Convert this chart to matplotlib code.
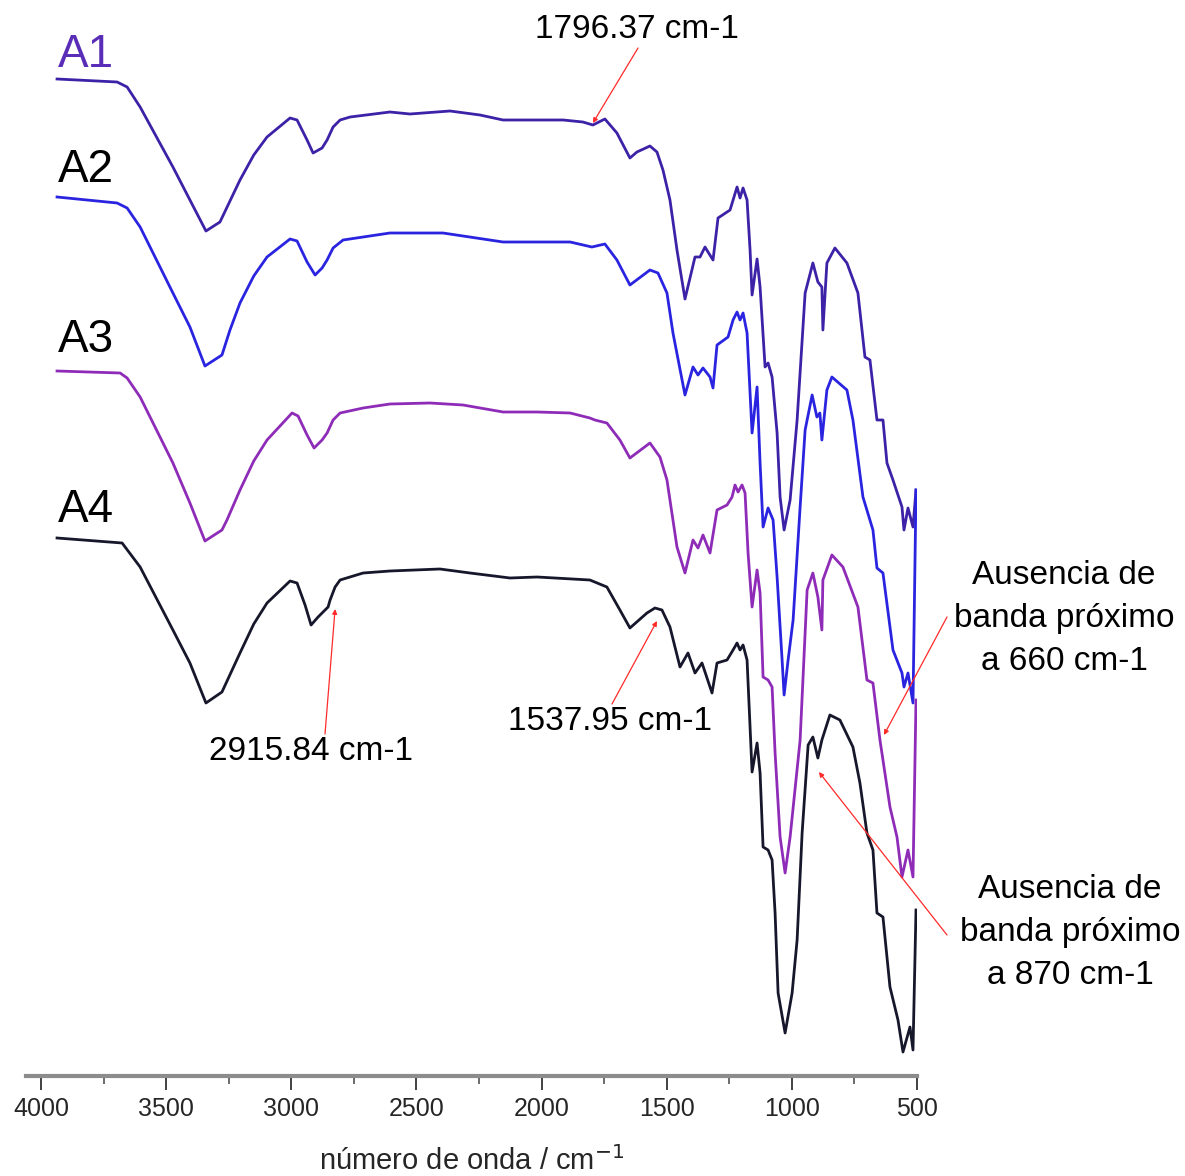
import matplotlib
matplotlib.use("Agg")
import matplotlib.pyplot as plt
from matplotlib import font_manager
from matplotlib.ticker import MultipleLocator

# ---------------------------------------------------------------
# Espectros FTIR – número de onda / cm-1
# y = transmitancia desplazada (unidades arbitrarias)
# ---------------------------------------------------------------
wn_a1 = [3936, 3696, 3656, 3604, 3473, 3405, 3341, 3285, 3205, 3150, 3097, 3005, 2977,
         2937, 2913, 2877, 2857, 2833, 2805, 2765, 2606, 2526, 2366, 2246, 2154,
         1914, 1835, 1795, 1747, 1699, 1647, 1619, 1567, 1539, 1515, 1487, 1459,
         1427, 1387, 1367, 1347, 1335, 1315, 1295, 1247, 1219, 1207, 1195, 1179,
         1167, 1159, 1139, 1127, 1107, 1095, 1079, 1059, 1047, 1031, 1007, 979,
         947, 916, 896, 880, 876, 860, 828, 780, 736, 708, 688, 660, 636, 620,
         596, 560, 552, 536, 516, 504]
t_a1 = [997, 994, 989, 969, 909, 876, 845, 854, 896, 921, 939, 958, 956,
        936, 923, 928, 936, 949, 956, 959, 964, 962, 965, 961, 956,
        956, 954, 951, 957, 943, 918, 924, 930, 924, 906, 876, 826,
        777, 819, 819, 829, 824, 816, 858, 866, 889, 878, 888, 876,
        826, 781, 817, 789, 709, 713, 699, 643, 579, 546, 576, 656,
        783, 813, 794, 789, 746, 813, 828, 813, 783, 719, 716, 656, 656, 613,
        596, 569, 546, 568, 549, 586]

wn_a2 = [3936, 3696, 3656, 3604, 3473, 3405, 3345, 3277, 3245, 3205, 3150, 3097, 3005,
         2977, 2937, 2905, 2877, 2857, 2833, 2793, 2606, 2394, 2314, 2154, 1886,
         1799, 1747, 1699, 1647, 1567, 1535, 1499, 1475, 1427, 1395, 1375, 1355,
         1327, 1315, 1299, 1255, 1235, 1219, 1207, 1195, 1179, 1159, 1139, 1127,
         1115, 1095, 1075, 1059, 1039, 1031, 1015, 995, 967, 947, 919, 900,
         888, 880, 860, 840, 780, 756, 716, 676, 660, 636, 596, 560, 552, 536,
         516, 504]
t_a2 = [879, 873, 868, 849, 783, 749, 710, 721, 746, 773, 800, 819, 837,
        835, 814, 801, 808, 816, 828, 836, 843, 843, 840, 834, 834,
        829, 832, 816, 791, 806, 803, 783, 743, 681, 709, 701, 708,
        699, 688, 731, 739, 756, 764, 756, 763, 743, 643, 689, 613,
        549, 568, 556, 499, 416, 381, 416, 456, 569, 646, 681, 659,
        663, 636, 686, 699, 686, 656, 579, 546, 508, 503, 426, 403, 389, 403,
        373, 586]

wn_a3 = [3936, 3684, 3656, 3604, 3473, 3405, 3345, 3277, 3257, 3205, 3150, 3097, 2997,
         2973, 2937, 2909, 2877, 2857, 2833, 2805, 2713, 2606, 2446, 2314, 2154,
         2018, 1886, 1807, 1787, 1739, 1687, 1647, 1567, 1527, 1499, 1459, 1427,
         1395, 1375, 1355, 1327, 1299, 1259, 1239, 1227, 1215, 1199, 1187, 1175,
         1159, 1139, 1127, 1115, 1095, 1079, 1067, 1047, 1027, 1007, 967, 939,
         916, 896, 880, 876, 840, 796, 736, 700, 676, 648, 636, 608, 580, 560,
         536, 516, 504]
t_a3 = [705, 703, 698, 679, 613, 573, 535, 546, 556, 586, 615, 636, 663,
        660, 641, 628, 636, 643, 656, 663, 668, 672, 673, 671, 664,
        664, 663, 658, 656, 653, 636, 618, 633, 619, 596, 529, 503,
        536, 528, 541, 523, 566, 571, 579, 591, 584, 591, 583, 523,
        469, 506, 483, 399, 396, 389, 323, 239, 203, 239, 336, 486,
        503, 479, 446, 496, 521, 509, 469, 396, 393, 336, 316, 269, 239, 199,
        226, 199, 376]

wn_a4 = [3936, 3676, 3604, 3473, 3405, 3341, 3277, 3205, 3150, 3097, 3005, 2977, 2945,
         2921, 2893, 2853, 2845, 2825, 2805, 2713, 2606, 2406, 2286, 2126, 2018,
         1807, 1739, 1687, 1647, 1579, 1547, 1519, 1487, 1447, 1415, 1387, 1359,
         1319, 1299, 1259, 1235, 1219, 1207, 1195, 1179, 1167, 1159, 1139, 1127,
         1115, 1095, 1079, 1067, 1055, 1027, 999, 979, 959, 935, 916, 896,
         880, 848, 808, 756, 728, 700, 676, 660, 636, 608, 576, 556, 528, 516,
         504]
t_a4 = [538, 533, 509, 446, 413, 373, 384, 423, 452, 473, 495, 493, 471,
        451, 459, 469, 476, 489, 496, 503, 505, 507, 503, 498, 499,
        496, 489, 466, 448, 463, 468, 466, 449, 409, 423, 403, 413,
        383, 413, 416, 426, 433, 426, 431, 416, 349, 304, 333, 303,
        229, 226, 216, 163, 83, 43, 83, 136, 243, 331, 339, 318,
        336, 361, 356, 329, 293, 243, 226, 163, 159, 89, 56, 24, 49, 26,
        166]

series = [
    ("A1", wn_a1, t_a1, "#3d22a8", "#5a2db8"),
    ("A2", wn_a2, t_a2, "#2a24e0", "black"),
    ("A3", wn_a3, t_a3, "#8e2cb8", "black"),
    ("A4", wn_a4, t_a4, "#17172c", "black"),
]

xticks = [4000, 3500, 3000, 2500, 2000, 1500, 1000, 500]

# anotaciones: texto, centro del texto (px figura), inicio flecha (px), punta (datos)
notes = [
    ("1796.37 cm-1", (637, 30), (638, 48), (1795, 953)),
    ("2915.84 cm-1", (311, 752), (325, 734), (2825, 467)),
    ("1537.95 cm-1", (610, 722), (612, 704), (1539, 455)),
    ("Ausencia de\nbanda próximo\na 660 cm-1", (1064, 618), (947, 617), (632, 341)),
    ("Ausencia de\nbanda próximo\na 870 cm-1", (1070, 933), (947, 935), (892, 304)),
]

W, H = 1185, 1176

avail = {f.name for f in font_manager.fontManager.ttflist}
tick_font = "Liberation Sans Narrow" if "Liberation Sans Narrow" in avail else "Liberation Sans"
tick_size = 21 if tick_font == "Liberation Sans Narrow" else 18

fig = plt.figure(figsize=(W / 100, H / 100), dpi=100)
ax = fig.add_axes([26 / W, 100 / H, (917 - 26) / W, 1076 / H])

for name, wn, t, col, lab_col in series:
    ax.plot(wn, t, color=col, lw=2.0, solid_joinstyle="round")

ax.set_xlim(4060, 500)
ax.set_ylim(0, 1076)

for s in ("left", "top", "right"):
    ax.spines[s].set_visible(False)
ax.spines["bottom"].set_color("#8c8c8c")
ax.spines["bottom"].set_linewidth(3.0)
ax.set_yticks([])

ax.xaxis.set_major_locator(MultipleLocator(500))
ax.xaxis.set_minor_locator(MultipleLocator(250))
ax.set_xticks(xticks)
ax.tick_params(axis="x", which="major", direction="out", length=10, width=1.3,
               color="#333333", pad=5, labelsize=tick_size, labelcolor="#262626")
ax.tick_params(axis="x", which="minor", direction="out", length=6, width=1.1,
               color="#444444")
for lab in ax.get_xticklabels():
    lab.set_fontfamily(tick_font)

ax.set_xlabel("número de onda / cm$^{-1}$", fontsize=tick_size + 3,
              family=tick_font, color="#262626", labelpad=18)

# etiquetas de las muestras
label_y = [55, 170, 340, 510]
for (name, wn, t, col, lab_col), py in zip(series, label_y):
    fig.text(58 / W, 1 - py / H, name, fontsize=33, family="Liberation Sans",
             color=lab_col, ha="left", va="center")

for txt, (tx, ty), (sx, sy), tip in notes:
    fig.text(tx / W, 1 - ty / H, txt, fontsize=24, family="Liberation Sans",
             ha="center", va="center", linespacing=1.5)
    ax.annotate("", xy=tip, xycoords="data", xytext=(sx, H - sy),
                textcoords="figure pixels", annotation_clip=False,
                arrowprops=dict(arrowstyle="-|>", color="#ff2a2a", lw=0.9,
                                mutation_scale=7, shrinkA=0, shrinkB=0))

fig.savefig("out.png", dpi=100)
